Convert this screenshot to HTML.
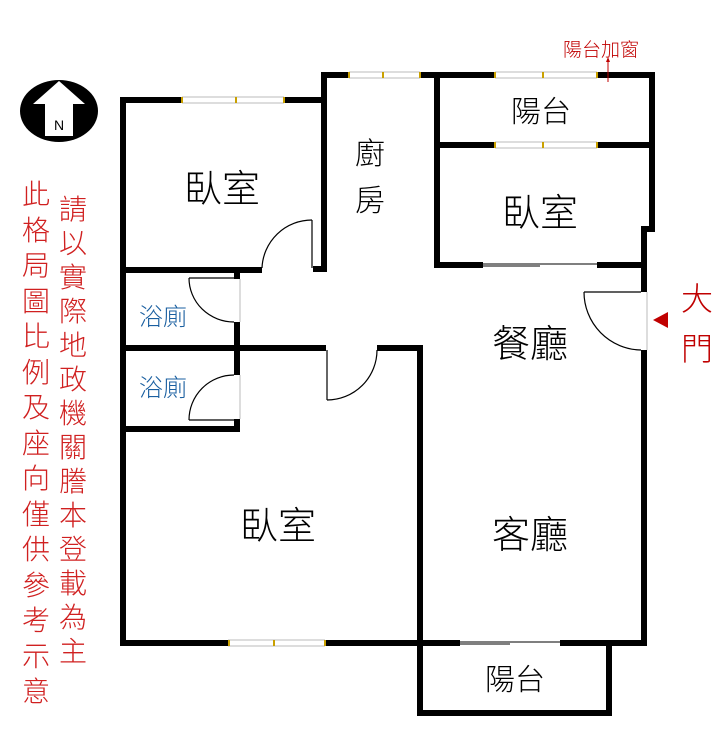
<!DOCTYPE html>
<html><head><meta charset="utf-8"><style>
html,body{margin:0;padding:0;background:#fff;}
svg{display:block;}
text{font-family:"Liberation Sans","Noto Sans CJK TC","WenQuanYi Zen Hei",sans-serif;font-weight:300;}
</style></head><body>
<svg width="725" height="735" viewBox="0 0 725 735" xmlns="http://www.w3.org/2000/svg">
<rect width="725" height="735" fill="#fff"/>
<!-- North icon -->
<ellipse cx="59" cy="111" rx="39" ry="31" fill="#000"/>
<polygon points="59,81 33,104 45,104 45,136 73,136 73,104 85,104" fill="#fff"/>
<text x="59" y="130" font-size="14" font-weight="bold" text-anchor="middle" fill="#000">N</text>

<g fill="#000">
<rect x="120" y="97" width="62" height="6"/>
<rect x="284" y="97" width="43" height="6"/>
<rect x="120" y="97" width="6" height="549"/>
<rect x="321" y="72" width="6" height="200"/>
<rect x="313" y="266" width="14" height="6"/>
<rect x="321" y="72" width="28" height="6"/>
<rect x="420" y="72" width="75" height="6"/>
<rect x="597" y="72" width="58" height="6"/>
<rect x="434" y="72" width="6" height="196"/>
<rect x="434" y="142" width="61" height="6"/>
<rect x="597" y="142" width="58" height="6"/>
<rect x="649" y="72" width="6" height="158"/>
<rect x="641" y="226" width="14" height="6"/>
<rect x="641" y="226" width="6" height="66"/>
<rect x="641" y="350" width="6" height="296"/>
<rect x="434" y="262" width="49" height="6"/>
<rect x="597" y="262" width="50" height="6"/>
<rect x="120" y="267" width="142" height="6"/>
<!-- bath1 right wall -->
<rect x="234" y="267" width="6" height="12"/>
<rect x="234" y="322" width="6" height="29"/>
<!-- divider -->
<rect x="120" y="345" width="206" height="6"/>
<rect x="377" y="345" width="46" height="6"/>
<!-- bath2 -->
<rect x="234" y="345" width="6" height="30"/>
<rect x="234" y="419" width="6" height="13"/>
<rect x="120" y="426" width="120" height="6"/>
<rect x="417" y="345" width="6" height="371"/>
<rect x="120" y="640" width="108" height="6"/>
<rect x="325" y="640" width="135" height="6"/>
<rect x="560" y="640" width="87" height="6"/>
<rect x="606" y="640" width="6" height="76"/>
<rect x="417" y="710" width="195" height="6"/>
</g>
<g stroke="#bbb" stroke-width="1" fill="none">
<line x1="182" y1="97" x2="284" y2="97"/><line x1="182" y1="103" x2="284" y2="103"/>
<line x1="349" y1="72" x2="420" y2="72"/><line x1="349" y1="78" x2="420" y2="78"/>
<line x1="495" y1="72" x2="597" y2="72"/><line x1="495" y1="78" x2="597" y2="78"/>
<line x1="495" y1="142" x2="597" y2="142"/><line x1="495" y1="148" x2="597" y2="148"/>
<line x1="228" y1="640" x2="325" y2="640"/><line x1="228" y1="646" x2="325" y2="646"/>
<line x1="240" y1="279" x2="240" y2="322"/><line x1="240" y1="375" x2="240" y2="419"/>
<line x1="647" y1="292" x2="647" y2="350"/>
</g>
<g fill="#c9a000">
<rect x="181" y="97" width="2" height="6"/><rect x="235" y="97" width="2" height="6"/><rect x="283" y="97" width="2" height="6"/>
<rect x="348" y="72" width="2" height="6"/><rect x="382" y="72" width="2" height="6"/><rect x="419" y="72" width="2" height="6"/>
<rect x="494" y="72" width="2" height="6"/><rect x="542" y="72" width="2" height="6"/><rect x="596" y="72" width="2" height="6"/>
<rect x="494" y="142" width="2" height="6"/><rect x="542" y="142" width="2" height="6"/><rect x="596" y="142" width="2" height="6"/>
<rect x="228" y="640" width="2" height="6"/><rect x="273" y="640" width="2" height="6"/><rect x="324" y="640" width="2" height="6"/>
</g>
<g stroke="#333" stroke-width="1.2">
<line x1="483" y1="264" x2="597" y2="264"/><line x1="483" y1="266" x2="540" y2="266"/>
<line x1="460" y1="642" x2="560" y2="642"/><line x1="460" y1="644" x2="510" y2="644"/>
</g>
<g stroke="#000" stroke-width="1.2" fill="none">
<line x1="312" y1="220" x2="312" y2="268"/><path d="M312,220 A50,50 0 0 0 262,268"/>
<line x1="189" y1="278" x2="234" y2="278"/><path d="M189,278 A45,44 0 0 0 234,322"/>
<line x1="189" y1="420" x2="234" y2="420"/><path d="M234,375 A45,45 0 0 0 189,420"/>
<line x1="327" y1="350" x2="327" y2="400"/><path d="M377,350 A50,50 0 0 1 327,400"/>
<line x1="584" y1="292" x2="641" y2="292"/><path d="M584,292 A58,58 0 0 0 641,350"/>
</g>
<polygon points="653,320 668,312 668,328" fill="#c00000"/>
<line x1="608" y1="82" x2="608" y2="60" stroke="#c00000" stroke-width="1"/>
<polygon points="608,57 606,62 610,62" fill="#c00000"/>
<g fill="#000" font-size="38" text-anchor="middle">
<text x="222" y="202">臥室</text>
<text x="540" y="226">臥室</text>
<text x="278" y="539">臥室</text>
<text x="530" y="357">餐廳</text>
<text x="530" y="548">客廳</text>
</g>
<g fill="#000" font-size="30" text-anchor="middle">
<text x="541" y="122">陽台</text>
<text x="515" y="690">陽台</text>
<text x="370" y="164">廚</text>
<text x="370" y="211">房</text>
</g>
<g fill="#1a5fa0" font-size="24" text-anchor="middle">
<text x="163" y="325">浴廁</text>
<text x="163" y="396">浴廁</text>
</g>
<text x="601" y="56" font-size="19" fill="#c00000" text-anchor="middle">陽台加窗</text>
<g fill="#c00000" font-size="32" text-anchor="middle">
<text x="697" y="310">大</text>
<text x="697" y="360">門</text>
</g>
<g fill="#d02020" font-size="28" text-anchor="middle">
<text x="36" y="204">此</text><text x="36" y="240">格</text><text x="36" y="275">局</text><text x="36" y="311">圖</text><text x="36" y="346">比</text><text x="36" y="382">例</text><text x="36" y="417">及</text><text x="36" y="453">座</text><text x="36" y="488">向</text><text x="36" y="524">僅</text><text x="36" y="559">供</text><text x="36" y="595">參</text><text x="36" y="630">考</text><text x="36" y="666">示</text><text x="36" y="701">意</text>
<text x="73" y="219">請</text><text x="73" y="253">以</text><text x="73" y="287">實</text><text x="73" y="321">際</text><text x="73" y="355">地</text><text x="73" y="389">政</text><text x="73" y="423">機</text><text x="73" y="457">關</text><text x="73" y="491">謄</text><text x="73" y="525">本</text><text x="73" y="559">登</text><text x="73" y="593">載</text><text x="73" y="627">為</text><text x="73" y="661">主</text>
</g>
</svg>
</body></html>
